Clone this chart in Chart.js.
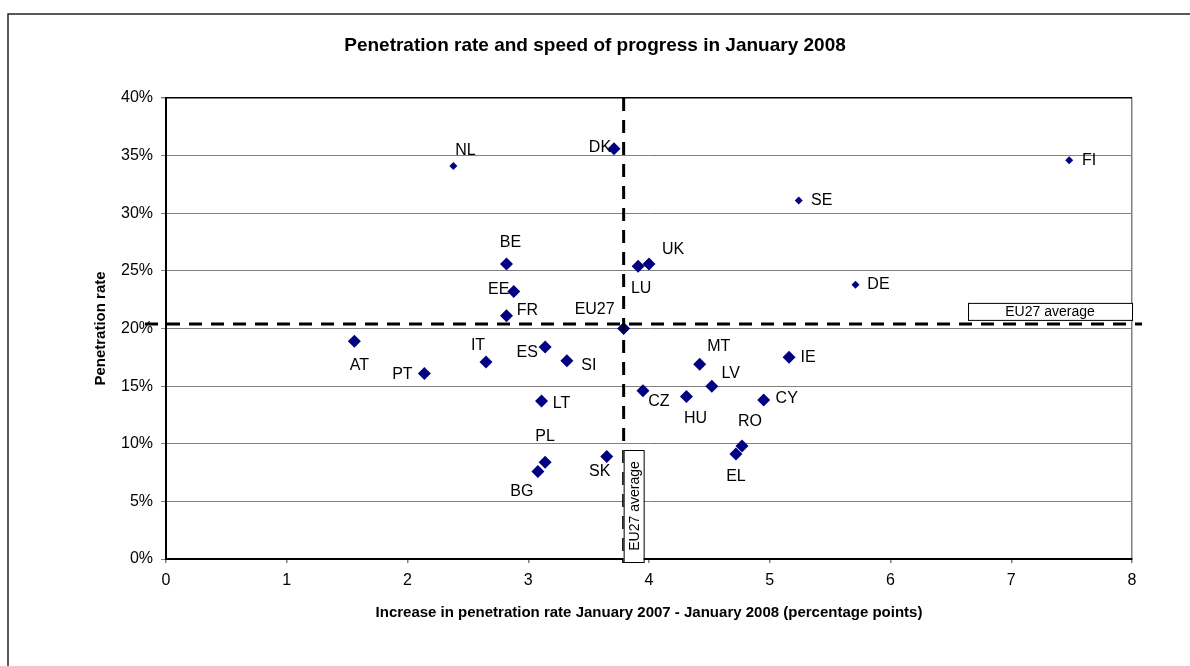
<!DOCTYPE html>
<html lang="en">
<head>
<meta charset="UTF-8">
<title>Penetration rate and speed of progress in January 2008</title>
<script src="https://cdn.jsdelivr.net/npm/chart.js"></script>
<style>
  html, body { margin: 0; padding: 0; background: #fff; }
  #wrap { width: 1190px; height: 666px; position: relative; }
</style>
</head>
<body>
<div id="wrap"><canvas id="grafico" width="1190" height="666"></canvas></div>
<script>
// datos
const countries = ['NL', 'DK', 'FI', 'SE', 'BE', 'UK', 'LU', 'EE', 'FR', 'DE', 'EU27', 'AT', 'PT', 'IT',
  'ES', 'SI', 'LT', 'PL', 'BG', 'SK', 'CZ', 'MT', 'LV', 'IE', 'HU', 'CY', 'RO', 'EL'];
const increase = [2.38, 3.71, 7.48, 5.24, 2.82, 4.00, 3.91, 2.88, 2.82, 5.71, 3.79, 1.56, 2.14, 2.65,
  3.14, 3.32, 3.11, 3.14, 3.08, 3.65, 3.95, 4.42, 4.52, 5.16, 4.31, 4.95, 4.77, 4.72];
const penetration = [34.1, 35.6, 34.6, 31.1, 25.6, 25.6, 25.4, 23.2, 21.1, 23.8, 20.0, 18.9, 16.1, 17.1,
  18.4, 17.2, 13.7, 8.4, 7.6, 8.9, 14.6, 16.9, 15.0, 17.5, 14.1, 13.8, 9.8, 9.1];
const avgIncrease = 3.79;
const avgPenetration = 20.4;
const avgLabel = 'EU27 average';
const xTicks = [0, 1, 2, 3, 4, 5, 6, 7, 8];
const yTicks = [0, 5, 10, 15, 20, 25, 30, 35, 40];

// posición de cada etiqueta respecto a su punto (px)
const labelOffsets = {
  NL: [12, -15], DK: [-14, -1], FI: [20, 0], SE: [23, 0], BE: [4, -21], UK: [24, -14], LU: [3, 22],
  EE: [-15, -2], FR: [21, -5], DE: [23, 0], EU27: [-29, -19], AT: [5, 24], PT: [-22, 1], IT: [-8, -16],
  ES: [-18, 6], SI: [22, 5], LT: [20, 2], PL: [0, -26], BG: [-16, 20], SK: [-7, 15], CZ: [16, 11],
  MT: [19, -18], LV: [19, -13], IE: [19, 0], HU: [9, 22], CY: [23, -1], RO: [8, -24], EL: [0, 22]
};
const smallMarkers = ['NL', 'FI', 'SE', 'DE'];

const FONT = "'Liberation Sans', Arial, sans-serif";

const puntos = countries.map((c, i) => ({ x: increase[i], y: penetration[i] }));

const decoraciones = {
  id: 'decoraciones',
  beforeDraw(chart) {
    const ctx = chart.ctx;
    ctx.save();
    ctx.strokeStyle = '#222';
    ctx.lineWidth = 1.5;
    ctx.beginPath();
    ctx.moveTo(8, 700);
    ctx.lineTo(8, 14);
    ctx.lineTo(1200, 14);
    ctx.stroke();
    ctx.restore();
  },
  afterDatasetsDraw(chart) {
    const ctx = chart.ctx;
    const xs = chart.scales.x, ys = chart.scales.y;
    const area = chart.chartArea;
    const meta = chart.getDatasetMeta(0);

    // etiquetas de países
    ctx.save();
    ctx.font = '16px ' + FONT;
    ctx.fillStyle = '#000';
    ctx.textAlign = 'center';
    ctx.textBaseline = 'middle';
    meta.data.forEach((el, i) => {
      const off = labelOffsets[countries[i]];
      ctx.fillText(countries[i], el.x + off[0], el.y + off[1]);
    });
    ctx.restore();

    // líneas de media
    const px = xs.getPixelForValue(avgIncrease);
    const py = ys.getPixelForValue(avgPenetration);
    ctx.save();
    ctx.strokeStyle = '#000';
    ctx.lineWidth = 3;
    ctx.setLineDash([13, 9]);
    ctx.beginPath();
    ctx.moveTo(area.left - 21, py);
    ctx.lineTo(area.right + 10, py);
    ctx.stroke();
    ctx.beginPath();
    ctx.moveTo(px, area.top);
    ctx.lineTo(px, area.bottom + 4);
    ctx.stroke();
    ctx.restore();

    // cuadros de texto
    ctx.save();
    ctx.lineWidth = 1;
    ctx.strokeStyle = '#000';
    ctx.fillStyle = '#fff';
    ctx.font = '14px ' + FONT;
    // horizontal
    const bw = 164, bh = 17;
    const bx = area.right - bw, by = py - 4 - bh;
    ctx.fillRect(bx, by, bw, bh);
    ctx.strokeRect(bx + 0.5, by + 0.5, bw, bh);
    ctx.fillStyle = '#000';
    ctx.textAlign = 'center';
    ctx.textBaseline = 'middle';
    ctx.fillText(avgLabel, bx + bw / 2, by + bh / 2 + 1);
    // vertical
    const vw = 20, vh = 112;
    const vx = px, vy = area.bottom + 3 - vh;
    ctx.fillStyle = '#fff';
    ctx.fillRect(vx, vy, vw, vh);
    ctx.strokeRect(vx + 0.5, vy + 0.5, vw, vh);
    ctx.translate(vx + vw / 2 + 1, vy + vh / 2);
    ctx.rotate(-Math.PI / 2);
    ctx.fillStyle = '#000';
    ctx.fillText(avgLabel, 0, 0);
    ctx.restore();
  }
};

new Chart(document.getElementById('grafico').getContext('2d'), {
  type: 'scatter',
  data: {
    datasets: [{
      label: 'Países',
      data: puntos,
      pointStyle: 'rectRot',
      pointRadius: ctx => smallMarkers.includes(countries[ctx.dataIndex]) ? 4 : 6.5,
      pointHoverRadius: ctx => smallMarkers.includes(countries[ctx.dataIndex]) ? 4 : 6.5,
      backgroundColor: '#000080',
      borderColor: '#000080',
      borderWidth: 0
    }]
  },
  options: {
    responsive: false,
    animation: false,
    events: [],
    layout: { padding: 0 },
    plugins: {
      legend: { display: false },
      tooltip: { enabled: false },
      title: {
        display: true,
        text: 'Penetration rate and speed of progress in January 2008',
        color: '#000',
        font: { family: FONT, size: 19, weight: 'bold', lineHeight: 1.2 },
        padding: { top: 34, bottom: 41.2 }
      }
    },
    scales: {
      x: {
        type: 'linear',
        min: 0, max: 8,
        afterBuildTicks: s => { s.ticks = xTicks.map(v => ({ value: v })); },
        afterFit: s => { s.height = 107; },
        ticks: { color: '#000', font: { family: FONT, size: 16 }, padding: 8 },
        grid: {
          color: c => c.tick && c.tick.value === 8 ? '#808080' : 'rgba(0,0,0,0)',
          tickColor: '#808080',
          tickLength: 4,
          lineWidth: 1.5
        },
        border: { color: '#000', width: 2 },
        title: {
          display: true,
          text: 'Increase in penetration rate January 2007 - January 2008 (percentage points)',
          color: '#000',
          font: { family: FONT, size: 15, weight: 'bold', lineHeight: 1.2 },
          padding: { top: 0, bottom: 44 }
        }
      },
      y: {
        type: 'linear',
        min: 0, max: 40,
        afterBuildTicks: s => { s.ticks = yTicks.map(v => ({ value: v })); },
        afterFit: s => { s.width = 166; },
        ticks: { color: '#000', font: { family: FONT, size: 16 }, padding: 8, callback: v => v + '%' },
        grid: {
          color: c => c.tick && c.tick.value === 40 ? '#000' : '#808080',
          lineWidth: c => c.tick && c.tick.value === 40 ? 1.5 : 1,
          tickColor: '#808080',
          tickLength: 5
        },
        border: { color: '#000', width: 2 },
        title: {
          display: true,
          text: 'Penetration rate',
          color: '#000',
          font: { family: FONT, size: 15, weight: 'bold', lineHeight: 1.2 },
          padding: { top: 92, bottom: 0 }
        }
      },
      // eje vacío a la derecha, solo deja el margen
      margen: {
        type: 'linear',
        position: 'right',
        min: 0, max: 40,
        afterFit: s => { s.width = 58; },
        ticks: { display: false },
        grid: { display: false },
        border: { display: false }
      }
    }
  },
  plugins: [decoraciones]
});
</script>
</body>
</html>
